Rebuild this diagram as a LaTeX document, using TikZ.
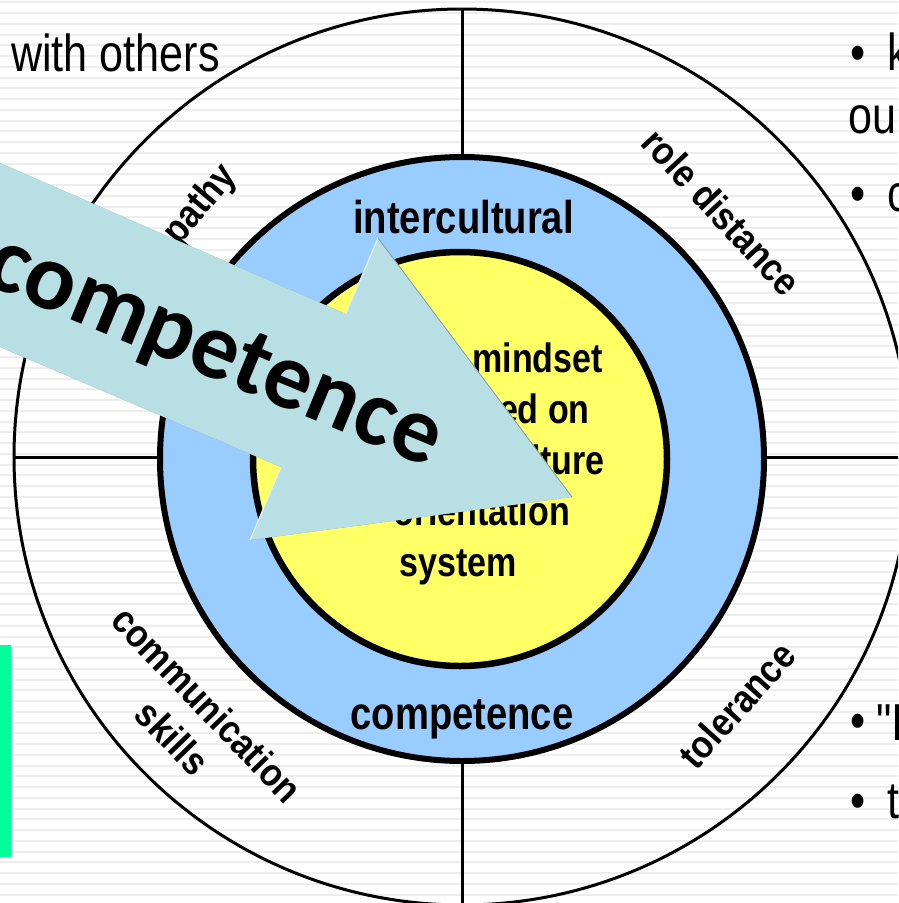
\documentclass[tikz,border=0pt]{standalone}
\usepackage{fontspec}
\setmainfont{Liberation Sans}
\newfontfamily\narrowfont[FakeStretch=0.83]{Liberation Sans}
\newfontfamily\labelfont[FakeStretch=0.88]{Liberation Sans}
\newfontfamily\arrowfont{Carlito}
\definecolor{ringblue}{HTML}{99CCFF}
\definecolor{coreyellow}{HTML}{FFFF66}
\definecolor{arrowfill}{HTML}{B8DFE3}
\definecolor{arrowshade}{HTML}{7E9CA2}
\definecolor{arrowlight}{HTML}{E2F4F6}
\definecolor{stripe}{HTML}{EDEDED}
\definecolor{greenbar}{HTML}{00FF99}
\tikzset{
  ringline/.style={line width=3pt},
  bluering/.style={fill=ringblue, draw=black, line width=6pt},
  corering/.style={fill=coreyellow, draw=black, line width=6.5pt},
  ringlabel/.style={font=\labelfont\bfseries\fontsize{39}{48}\selectfont, align=center, inner sep=0pt},
  bluelabel/.style={font=\narrowfont\bfseries\fontsize{46}{52}\selectfont, inner sep=0pt, anchor=base},
  corelabel/.style={font=\narrowfont\bfseries\fontsize{41}{50}\selectfont, inner sep=0pt},
  slidetext/.style={font=\narrowfont\fontsize{52}{62}\selectfont, inner sep=0pt},
  arrowtext/.style={font=\arrowfont\bfseries\fontsize{95}{105}\selectfont, inner sep=0pt, anchor=base},
}
\begin{document}
\begin{tikzpicture}[x=1pt,y=-1pt]
\useasboundingbox (0,0) rectangle (898,903);
\clip (0,0) rectangle (898,903);
% background with faint stripes
\fill[white] (0,0) rectangle (898,903);
\foreach \k in {0,...,84}{
  \fill[stripe] (0,{1.25+10.75*\k}) rectangle (898,{3.25+10.75*\k});
}
% outer circle and dividers
\coordinate (C) at (462,457);
\draw[ringline] (C) circle[radius=448pt];
\coordinate (top) at (462,9);
\coordinate (bottom) at (462,906);
\coordinate (left) at (14,457);
\coordinate (right) at (911,457);
\draw[ringline] (top) -- (bottom);
\draw[ringline] (left) -- (right);
% blue ring and yellow core
\draw[bluering] (462,459) circle[radius=302pt];
\draw[corering] (460,459) circle[radius=207pt];
% blue ring texts
\node[bluelabel] (inter) at (463.5,233) {intercultural};
\node[bluelabel] (comp) at (462,729) {competence};
% core texts
\node[corelabel, anchor=base east] (l1) at (603,372) {mindset};
\node[corelabel, anchor=base east] (l2) at (590,423) {based on};
\node[corelabel, anchor=base east] (l3) at (605,474) {culture};
\node[corelabel, anchor=base east] (l4) at (570,525) {orientation};
\node[corelabel, anchor=base] (l5) at (458,576) {system};
% outer ring labels
\node[ringlabel, rotate=50] (emp) at (185,224) {empathy};
\node[ringlabel, rotate=-47] (role) at (722,212) {role distance};
\node[ringlabel, rotate=48] (tol) at (737,705) {tolerance};
\node[ringlabel, rotate=-46] (commu) at (190,721) {communication\\skills};
% big arrow
\coordinate (a1) at (-10,158.6);
\coordinate (a2) at (345.7,314);
\coordinate (a3) at (378,238);
\coordinate (a4) at (572,497);
\coordinate (a5) at (250,540);
\coordinate (a6) at (281,467);
\coordinate (a7) at (-10,342.7);
\fill[arrowshade, shift={(1.2,2.5)}] (a1) -- (a2) -- (a3) -- (a4) -- (a5) -- (a6) -- (a7) -- cycle;
\fill[arrowfill] (a1) -- (a2) -- (a3) -- (a4) -- (a5) -- (a6) -- (a7) -- cycle;
\draw[arrowlight, line width=1.2pt] (a5) -- (a6);
\draw[arrowlight, line width=1.2pt] (a2) -- (a3);
\draw[arrowshade, line width=0.8pt] (a3) -- (a4);
\node[arrowtext, rotate=-22.5] (arrowlabel) at (205,375) {competence};
% slide texts around
\node[slidetext, anchor=base west] (others) at (11,71) {with others};
\node[slidetext, anchor=base] (b1) at (858,70) {•};
\node[slidetext, anchor=base west] (t1) at (887,70) {k};
\node[slidetext, anchor=base west] (t2) at (848,133) {ou};
\node[slidetext, anchor=base] (b2) at (858,211) {•};
\node[slidetext, anchor=base west] (t3) at (887,211) {c};
\node[slidetext, anchor=base] (b3) at (858,738) {•};
\node[slidetext, anchor=base west] (t4) at (876,740) {"I};
\node[slidetext, anchor=base] (b4) at (858,818) {•};
\node[slidetext, anchor=base west] (t5) at (887,818) {t};
% green bar
\fill[greenbar] (0,645) rectangle (11,857);
\end{tikzpicture}
\end{document}
